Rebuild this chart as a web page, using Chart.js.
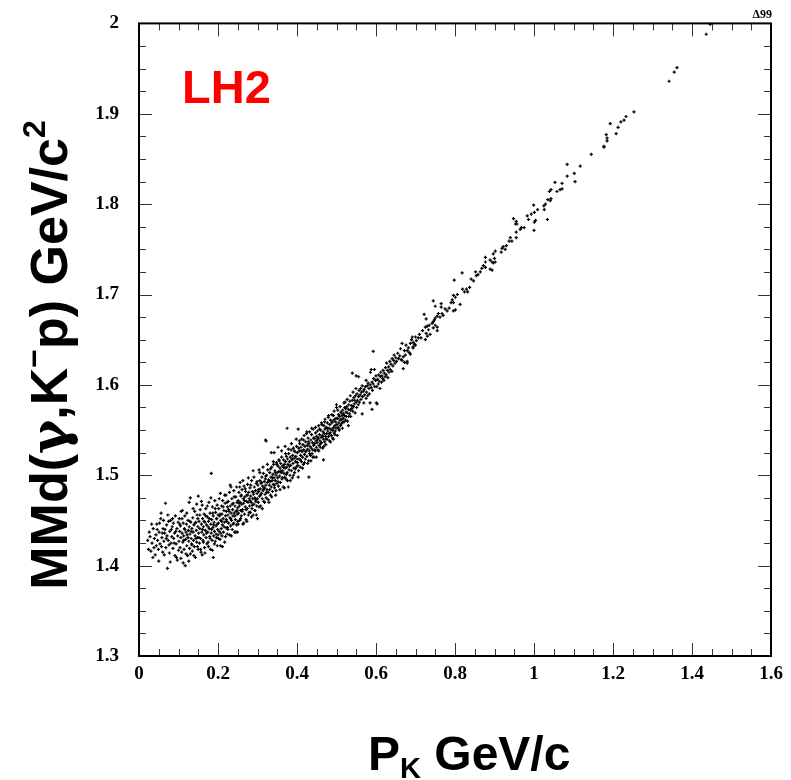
<!DOCTYPE html>
<html>
<head>
<meta charset="utf-8">
<script src="https://cdn.jsdelivr.net/npm/chart.js@4.4.1/dist/chart.umd.min.js"></script>
<style>
  html, body { margin: 0; padding: 0; background: #fff; }
  canvas { display: block; }
</style>
</head>
<body>
<canvas id="c" width="791" height="780"></canvas>
<script>
// Axis tick values (labelled ticks)
const pTicks = [0, 0.2, 0.4, 0.6, 0.8, 1.0, 1.2, 1.4, 1.6];
const mmTicks = [1.3, 1.4, 1.5, 1.6, 1.7, 1.8, 1.9, 2.0];

// Events: [kaon momentum P_K (GeV/c), missing mass MMd(gamma,K-p) (GeV/c^2)]
const band000_010 = [
  [0.022,1.428],[0.024,1.418],[0.028,1.432],[0.030,1.416],[0.033,1.425],[0.036,1.441],[0.038,1.420],[0.041,1.412],
  [0.043,1.434],[0.045,1.446],[0.047,1.428],[0.049,1.418],[0.051,1.437],[0.053,1.424],[0.055,1.452],[0.056,1.458],
  [0.058,1.431],[0.060,1.415],[0.061,1.441],[0.063,1.427],[0.065,1.436],[0.067,1.469],[0.068,1.420],[0.070,1.445],
  [0.071,1.433],[0.072,1.397],[0.074,1.428],[0.075,1.449],[0.077,1.414],[0.078,1.438],[0.080,1.450],[0.081,1.425],
  [0.083,1.432],[0.084,1.443],[0.086,1.419],[0.087,1.447],[0.088,1.430],[0.090,1.436],[0.091,1.411],[0.092,1.455],
  [0.094,1.424],[0.095,1.409],[0.096,1.441],[0.097,1.406],[0.098,1.433],[0.099,1.448]
];
const band010_020 = [
  [0.101,1.427],[0.102,1.452],[0.103,1.438],[0.104,1.420],[0.105,1.444],[0.106,1.431],[0.107,1.460],[0.108,1.415],
  [0.109,1.436],[0.110,1.461],[0.111,1.426],[0.112,1.403],[0.112,1.447],[0.113,1.433],[0.114,1.418],[0.115,1.441],
  [0.116,1.455],[0.117,1.400],[0.118,1.429],[0.119,1.437],[0.120,1.446],[0.121,1.422],[0.122,1.434],[0.123,1.411],
  [0.124,1.450],[0.125,1.439],[0.126,1.427],[0.127,1.470],[0.127,1.443],[0.128,1.419],[0.129,1.435],[0.130,1.475],
  [0.130,1.413],[0.131,1.448],[0.132,1.430],[0.133,1.424],[0.134,1.441],[0.135,1.416],[0.136,1.453],[0.137,1.437],
  [0.138,1.428],[0.139,1.445],[0.140,1.421],[0.141,1.460],[0.142,1.433],[0.143,1.409],[0.144,1.448],[0.145,1.439],
  [0.146,1.426],[0.147,1.456],[0.148,1.431],[0.149,1.443],[0.150,1.477],[0.150,1.418],
  [0.151,1.436],[0.152,1.449],[0.153,1.425],[0.154,1.441],[0.155,1.462],[0.156,1.430],[0.157,1.415],[0.158,1.446],
  [0.159,1.437],[0.160,1.467],[0.160,1.412],[0.161,1.452],[0.162,1.428],[0.163,1.443],[0.164,1.434],[0.165,1.457],
  [0.166,1.420],[0.167,1.448],[0.168,1.439],[0.169,1.463],[0.170,1.431],[0.171,1.445],[0.172,1.424],[0.173,1.454],
  [0.174,1.437],[0.175,1.426],[0.176,1.449],[0.177,1.470],[0.178,1.441],[0.179,1.432],[0.180,1.458],[0.181,1.418],
  [0.182,1.446],[0.183,1.502],[0.183,1.436],[0.184,1.451],[0.185,1.428],[0.186,1.465],[0.187,1.442],[0.188,1.409],
  [0.188,1.455],[0.189,1.433],[0.190,1.448],[0.191,1.438],[0.192,1.472],[0.193,1.427],[0.194,1.459],[0.195,1.444],
  [0.196,1.431],[0.197,1.452],[0.198,1.422],[0.198,1.467],[0.199,1.440],[0.200,1.456],[0.200,1.434]
];
const band020_030 = [
  [0.201,1.447],[0.202,1.463],[0.203,1.438],[0.204,1.455],[0.205,1.429],[0.206,1.422],[0.206,1.480],[0.207,1.450],
  [0.208,1.441],[0.209,1.466],[0.210,1.457],[0.210,1.433],[0.211,1.445],[0.212,1.472],[0.213,1.452],[0.214,1.437],
  [0.215,1.461],[0.216,1.448],[0.217,1.426],[0.218,1.469],[0.219,1.455],[0.220,1.442],[0.220,1.478],[0.221,1.460],
  [0.222,1.449],[0.223,1.435],[0.224,1.442],[0.224,1.465],[0.225,1.456],[0.226,1.471],[0.227,1.447],[0.228,1.460],
  [0.229,1.434],[0.230,1.453],[0.231,1.489],[0.231,1.466],[0.232,1.444],[0.233,1.458],[0.233,1.487],[0.234,1.450],
  [0.235,1.474],[0.236,1.440],[0.237,1.462],[0.238,1.455],[0.239,1.469],[0.240,1.447],[0.240,1.483],[0.241,1.458],
  [0.242,1.437],[0.243,1.466],[0.244,1.451],[0.245,1.476],[0.246,1.460],[0.247,1.445],[0.248,1.470],[0.249,1.437],
  [0.249,1.457],[0.250,1.464],[0.250,1.449],
  [0.251,1.472],[0.252,1.458],[0.253,1.481],[0.254,1.466],[0.255,1.450],[0.256,1.492],[0.256,1.470],[0.257,1.461],
  [0.258,1.477],[0.259,1.455],[0.260,1.468],[0.261,1.484],[0.262,1.462],[0.263,1.446],[0.264,1.474],[0.265,1.469],
  [0.266,1.488],[0.267,1.457],[0.268,1.476],[0.269,1.465],[0.270,1.482],[0.271,1.451],[0.272,1.471],[0.273,1.478],
  [0.274,1.463],[0.275,1.490],[0.276,1.470],[0.277,1.456],[0.278,1.481],[0.279,1.474],[0.280,1.466],[0.281,1.486],
  [0.282,1.459],[0.283,1.477],[0.284,1.470],[0.285,1.494],[0.286,1.463],[0.287,1.482],[0.288,1.474],[0.289,1.505],
  [0.289,1.456],[0.290,1.479],[0.291,1.468],[0.292,1.487],[0.293,1.475],[0.294,1.461],[0.295,1.483],[0.296,1.471],
  [0.297,1.491],[0.298,1.466],[0.299,1.480],[0.300,1.474],[0.300,1.452]
];
const band030_040 = [
  [0.301,1.489],[0.302,1.470],[0.303,1.482],[0.304,1.506],[0.305,1.477],[0.306,1.494],[0.307,1.485],[0.308,1.466],
  [0.309,1.491],[0.310,1.480],[0.311,1.498],[0.312,1.474],[0.313,1.488],[0.314,1.483],[0.315,1.502],[0.316,1.471],
  [0.317,1.493],[0.318,1.486],[0.319,1.479],[0.320,1.539],[0.320,1.496],[0.321,1.489],[0.322,1.538],[0.322,1.475],
  [0.323,1.500],[0.324,1.484],[0.325,1.492],[0.326,1.506],[0.327,1.481],[0.328,1.495],[0.329,1.470],[0.330,1.489],
  [0.331,1.503],[0.332,1.493],[0.333,1.478],[0.334,1.498],[0.335,1.525],[0.335,1.487],[0.336,1.509],[0.337,1.494],
  [0.338,1.482],[0.339,1.501],[0.340,1.490],[0.341,1.512],[0.342,1.525],[0.342,1.497],[0.343,1.486],[0.344,1.505],
  [0.345,1.494],[0.346,1.478],[0.347,1.500],[0.348,1.514],[0.349,1.491],[0.350,1.503],
  [0.351,1.497],[0.352,1.531],[0.352,1.510],[0.353,1.488],[0.354,1.504],[0.355,1.516],[0.356,1.499],[0.357,1.508],
  [0.358,1.492],[0.359,1.513],[0.360,1.503],[0.361,1.520],[0.362,1.496],[0.363,1.510],[0.364,1.505],[0.365,1.487],
  [0.366,1.517],[0.367,1.502],[0.368,1.512],[0.369,1.498],[0.370,1.532],[0.370,1.508],[0.371,1.515],[0.372,1.496],
  [0.373,1.521],[0.374,1.509],[0.375,1.552],[0.375,1.503],[0.376,1.518],[0.377,1.512],[0.378,1.487],[0.379,1.524],
  [0.380,1.506],[0.381,1.515],[0.382,1.500],[0.383,1.520],[0.384,1.511],[0.385,1.528],[0.386,1.505],[0.387,1.517],
  [0.388,1.497],[0.389,1.522],[0.390,1.513],[0.391,1.530],[0.392,1.508],[0.393,1.519],[0.394,1.503],[0.395,1.526],
  [0.396,1.515],[0.397,1.521],[0.398,1.509],[0.399,1.532],[0.400,1.518]
];
const band040_050 = [
  [0.401,1.525],[0.402,1.511],[0.403,1.551],[0.403,1.498],[0.404,1.530],[0.405,1.518],[0.406,1.527],[0.407,1.535],
  [0.408,1.509],[0.409,1.522],[0.410,1.531],[0.411,1.515],[0.412,1.540],[0.413,1.526],[0.414,1.520],[0.415,1.534],
  [0.416,1.512],[0.417,1.528],[0.418,1.544],[0.419,1.523],[0.420,1.532],[0.421,1.518],[0.422,1.537],[0.423,1.527],
  [0.424,1.546],[0.425,1.521],[0.426,1.533],[0.427,1.529],[0.428,1.541],[0.429,1.516],[0.430,1.498],[0.430,1.535],
  [0.431,1.527],[0.432,1.548],[0.433,1.532],[0.434,1.522],[0.435,1.539],[0.436,1.530],[0.437,1.545],[0.438,1.524],
  [0.439,1.536],[0.440,1.528],[0.441,1.551],[0.442,1.533],[0.443,1.520],[0.444,1.541],[0.445,1.535],[0.446,1.527],
  [0.447,1.547],[0.448,1.538],[0.449,1.531],[0.450,1.543],
  [0.451,1.536],[0.452,1.549],[0.453,1.528],[0.454,1.541],[0.455,1.555],[0.456,1.533],[0.457,1.545],[0.458,1.538],
  [0.459,1.531],[0.460,1.550],[0.461,1.542],[0.462,1.536],[0.463,1.556],[0.464,1.544],[0.465,1.530],[0.466,1.548],
  [0.467,1.517],[0.467,1.540],[0.468,1.555],[0.469,1.546],[0.470,1.559],[0.470,1.537],[0.471,1.551],[0.472,1.543],
  [0.473,1.534],[0.474,1.553],[0.475,1.546],[0.476,1.540],[0.477,1.558],[0.478,1.549],[0.479,1.564],[0.480,1.543],
  [0.481,1.552],[0.482,1.538],[0.483,1.556],[0.484,1.547],[0.485,1.561],[0.486,1.551],[0.487,1.544],[0.488,1.558],
  [0.489,1.550],[0.490,1.541],[0.491,1.560],[0.492,1.566],[0.492,1.540],[0.493,1.553],[0.494,1.547],[0.495,1.562],
  [0.496,1.555],[0.497,1.549],[0.498,1.559],[0.499,1.552],[0.500,1.578]
];
const band050_065 = [
  [0.500,1.575],[0.501,1.556],[0.502,1.544],[0.503,1.563],[0.504,1.553],[0.505,1.567],[0.506,1.558],[0.507,1.550],
  [0.508,1.565],[0.509,1.561],[0.510,1.555],[0.511,1.570],[0.512,1.562],[0.513,1.557],[0.514,1.566],[0.515,1.552],
  [0.516,1.572],[0.517,1.563],[0.518,1.568],[0.519,1.559],[0.520,1.566],[0.521,1.575],[0.522,1.581],[0.523,1.561],
  [0.524,1.570],[0.525,1.565],[0.526,1.576],[0.527,1.569],[0.528,1.560],[0.530,1.555],[0.530,1.573],[0.531,1.578],
  [0.533,1.568],[0.534,1.582],[0.535,1.572],[0.536,1.565],[0.538,1.577],[0.540,1.613],[0.540,1.583],[0.541,1.571],
  [0.543,1.576],[0.544,1.586],[0.545,1.579],[0.547,1.569],[0.548,1.588],[0.550,1.610],[0.550,1.581],
  [0.551,1.575],[0.552,1.590],[0.553,1.583],[0.555,1.578],[0.556,1.609],[0.556,1.587],[0.557,1.594],[0.558,1.581],
  [0.560,1.589],[0.561,1.596],[0.562,1.584],[0.563,1.592],[0.565,1.599],[0.565,1.568],[0.566,1.587],[0.568,1.593],
  [0.569,1.580],[0.570,1.595],[0.571,1.589],[0.573,1.598],[0.575,1.605],[0.575,1.585],[0.576,1.592],[0.578,1.599],
  [0.579,1.588],[0.580,1.602],[0.582,1.596],[0.583,1.590],[0.585,1.580],[0.585,1.600],[0.586,1.614],[0.588,1.617],
  [0.588,1.597],[0.590,1.573],[0.590,1.603],[0.591,1.594],[0.593,1.637],[0.593,1.601],[0.594,1.607],[0.596,1.617],
  [0.597,1.598],[0.599,1.605],[0.600,1.610],
  [0.601,1.580],[0.602,1.598],[0.603,1.579],[0.604,1.606],[0.606,1.601],[0.607,1.611],[0.608,1.604],[0.610,1.596],
  [0.611,1.609],[0.612,1.614],[0.614,1.603],[0.615,1.610],[0.617,1.607],[0.618,1.616],[0.620,1.605],[0.621,1.613],
  [0.623,1.609],[0.624,1.619],[0.626,1.611],[0.627,1.624],[0.629,1.616],[0.630,1.608],[0.632,1.620],[0.633,1.614],
  [0.635,1.626],[0.636,1.617],[0.638,1.623],[0.640,1.615],[0.641,1.629],[0.643,1.621],[0.645,1.627],[0.646,1.633],
  [0.648,1.624],[0.650,1.630]
];
const band065_087 = [
  [0.652,1.626],[0.655,1.635],[0.657,1.629],[0.660,1.632],[0.662,1.640],[0.664,1.628],[0.666,1.646],[0.666,1.627],
  [0.669,1.631],[0.669,1.618],[0.672,1.638],[0.672,1.625],[0.674,1.633],[0.676,1.644],[0.679,1.638],[0.679,1.626],
  [0.679,1.624],[0.682,1.641],[0.684,1.636],[0.687,1.646],[0.687,1.634],[0.690,1.650],[0.692,1.653],[0.694,1.647],
  [0.694,1.642],[0.694,1.641],[0.697,1.645],[0.700,1.653],[0.700,1.644],
  [0.702,1.649],[0.707,1.652],[0.710,1.656],[0.714,1.652],[0.718,1.660],[0.722,1.678],[0.725,1.664],[0.725,1.650],
  [0.727,1.673],[0.727,1.657],[0.730,1.665],[0.730,1.654],[0.733,1.661],[0.735,1.666],[0.737,1.656],[0.742,1.668],
  [0.745,1.670],[0.745,1.663],[0.745,1.693],[0.748,1.672],[0.750,1.666],[0.750,1.674],[0.750,1.687],[0.755,1.664],
  [0.755,1.660],[0.755,1.676],[0.758,1.679],[0.762,1.675],[0.765,1.690],[0.765,1.686],[0.767,1.679],[0.770,1.677],
  [0.775,1.684],[0.780,1.682],[0.785,1.685],[0.790,1.691],[0.793,1.694],[0.796,1.699],[0.796,1.691],[0.796,1.682],
  [0.798,1.716],
  [0.801,1.697],[0.801,1.683],[0.806,1.700],[0.813,1.689],[0.818,1.724],[0.819,1.706],[0.824,1.703],[0.829,1.706],
  [0.832,1.703],[0.837,1.708],[0.841,1.717],[0.847,1.715],[0.852,1.725],[0.854,1.721],[0.858,1.722],[0.864,1.725],
  [0.868,1.729]
];
const bandAbove087 = [
  [0.872,1.732],[0.877,1.741],[0.877,1.736],[0.877,1.730],[0.889,1.738],[0.889,1.728],[0.894,1.736],[0.894,1.727],
  [0.897,1.745],[0.897,1.735],[0.900,1.740],[0.902,1.748],[0.902,1.736],[0.917,1.747],[0.919,1.751],[0.922,1.753],
  [0.927,1.750],[0.930,1.754],[0.937,1.759],[0.940,1.763],[0.944,1.759],[0.948,1.784],[0.953,1.778],[0.955,1.781],
  [0.955,1.769],[0.955,1.763],[0.957,1.778],[0.965,1.772],[0.968,1.774],[0.975,1.774],[0.983,1.787],[0.986,1.783],
  [0.993,1.789],[0.999,1.799],[1.000,1.771],
  [1.001,1.791],[1.001,1.780],[1.004,1.782],[1.009,1.794],[1.025,1.798],[1.026,1.794],[1.029,1.800],[1.034,1.783],
  [1.035,1.805],[1.039,1.814],[1.041,1.804],[1.043,1.816],[1.043,1.806],[1.053,1.824],[1.058,1.814],[1.066,1.816],
  [1.071,1.823],[1.071,1.817],[1.084,1.844],[1.084,1.831],[1.102,1.834],[1.104,1.825],[1.117,1.842],[1.145,1.855],
  [1.177,1.864],[1.177,1.863],[1.183,1.877],[1.185,1.873],[1.185,1.870],[1.193,1.889],[1.208,1.878],[1.213,1.885],
  [1.220,1.891],[1.228,1.893],[1.233,1.897],[1.253,1.902],[1.342,1.936],[1.355,1.946],[1.362,1.951],[1.436,1.988],
  [1.446,1.999]
];
// Additional low-momentum events filling out the width of the band
const spreadLow = [
  [0.026,1.437],[0.032,1.446],[0.035,1.409],[0.039,1.430],[0.044,1.422],[0.046,1.440],[0.050,1.405],[0.052,1.447],
  [0.057,1.421],[0.059,1.436],[0.062,1.450],[0.064,1.412],[0.066,1.440],[0.069,1.430],[0.073,1.456],[0.076,1.423],
  [0.079,1.404],[0.082,1.440],[0.085,1.452],[0.089,1.425],[0.093,1.438],[0.100,1.417],[0.103,1.446],[0.106,1.408],
  [0.109,1.452],[0.113,1.428],[0.116,1.440],[0.119,1.413],[0.121,1.458],[0.124,1.431],[0.126,1.405],[0.129,1.449],
  [0.132,1.438],[0.134,1.423],[0.137,1.463],[0.139,1.411],[0.142,1.447],[0.144,1.430],[0.146,1.468],[0.148,1.421],
  [0.149,1.452],
  [0.152,1.431],[0.154,1.456],[0.156,1.418],[0.158,1.471],[0.161,1.440],[0.163,1.426],[0.165,1.449],[0.167,1.414],
  [0.169,1.455],[0.171,1.436],[0.173,1.466],[0.175,1.443],[0.176,1.421],[0.178,1.452],[0.180,1.430],[0.182,1.475],
  [0.184,1.440],[0.186,1.417],[0.187,1.458],[0.189,1.445],[0.191,1.424],[0.193,1.463],[0.195,1.435],[0.196,1.452],
  [0.198,1.446],[0.201,1.430],[0.203,1.474],[0.205,1.457],[0.207,1.436],[0.209,1.449],[0.211,1.421],[0.213,1.465],
  [0.215,1.443],[0.217,1.478],[0.219,1.432],[0.221,1.451],[0.223,1.470],[0.225,1.440],[0.227,1.462],[0.229,1.481],
  [0.232,1.452],[0.234,1.433],[0.236,1.468],[0.238,1.446],[0.241,1.476],[0.243,1.455],[0.245,1.437],[0.247,1.487],
  [0.248,1.461]
];
const spreadMid = [
  [0.251,1.446],[0.253,1.469],[0.255,1.487],[0.257,1.452],[0.259,1.478],[0.261,1.460],[0.263,1.494],[0.265,1.447],
  [0.267,1.472],[0.269,1.485],[0.271,1.462],[0.273,1.449],[0.275,1.478],[0.277,1.497],[0.279,1.459],[0.281,1.472],
  [0.283,1.489],[0.285,1.454],[0.287,1.467],[0.289,1.481],[0.291,1.498],[0.293,1.461],[0.295,1.473],[0.297,1.456],
  [0.299,1.493],[0.302,1.484],[0.304,1.465],[0.306,1.503],[0.308,1.478],[0.310,1.492],[0.312,1.463],[0.314,1.509],
  [0.316,1.485],[0.318,1.470],[0.321,1.499],[0.323,1.481],[0.325,1.512],[0.327,1.473],[0.329,1.494],[0.331,1.484],
  [0.333,1.507],[0.336,1.476],[0.338,1.497],[0.340,1.515],[0.343,1.489],[0.345,1.503],[0.347,1.483],[0.349,1.512],
  [0.352,1.493],[0.354,1.517],[0.357,1.484],[0.359,1.505],[0.361,1.527],[0.363,1.497],[0.366,1.509],[0.368,1.486],
  [0.371,1.524],[0.373,1.501],[0.376,1.494],[0.378,1.529],[0.381,1.510],[0.383,1.494],[0.386,1.535],[0.388,1.518],
  [0.391,1.500],[0.393,1.527],[0.396,1.507],[0.398,1.540],[0.401,1.514],[0.404,1.505],[0.406,1.538],[0.409,1.517],
  [0.411,1.527],[0.414,1.508],[0.417,1.539],[0.419,1.514],[0.422,1.526],[0.425,1.548],[0.427,1.513],[0.429,1.537],
  [0.432,1.524],[0.435,1.516],[0.437,1.552],[0.440,1.520],[0.442,1.541],[0.445,1.528],[0.447,1.553],[0.449,1.520],
  [0.452,1.540],[0.455,1.527],[0.457,1.551],[0.460,1.535],[0.462,1.558],[0.465,1.543],[0.468,1.532],[0.471,1.562],
  [0.474,1.540],[0.477,1.552],[0.480,1.566],[0.482,1.546],[0.485,1.537],[0.488,1.567],[0.491,1.550],[0.494,1.571],
  [0.496,1.545],[0.499,1.563],[0.503,1.572],[0.506,1.551],[0.509,1.576],[0.512,1.569],[0.516,1.559],[0.519,1.580],
  [0.523,1.574],[0.527,1.584],[0.531,1.565],[0.535,1.588],[0.539,1.574],[0.542,1.592],[0.546,1.583],[0.549,1.596]
];

const events = [].concat(band000_010, band010_020, band020_030, band030_040,
                         band040_050, band050_065, band065_087, bandAbove087,
                         spreadLow, spreadMid)
                 .map(([p, m]) => ({ x: p, y: m }));

const SANS = '"Liberation Sans", Arial, Helvetica, sans-serif';
const SERIF = '"Liberation Serif", "Times New Roman", Times, serif';

// Draw a run of text pieces (with sub/superscripts) starting at x, baseline y
function fontOf(p) { return `bold ${p.size}px ${p.family || SANS}`; }
function richWidth(ctx, parts) {
  let w = 0;
  for (const p of parts) { ctx.font = fontOf(p); w += ctx.measureText(p.text).width; }
  return w;
}
function drawRich(ctx, parts, x, y) {
  let cx = x;
  for (const p of parts) {
    ctx.font = fontOf(p);
    ctx.fillText(p.text, cx, y + (p.dy || 0));
    cx += ctx.measureText(p.text).width;
  }
}

// Boxed frame with inward-pointing major/minor ticks on all four sides
const frameTicks = {
  id: 'frameTicks',
  afterDatasetsDraw(chart) {
    const { ctx, chartArea: a, scales: { x, y } } = chart;
    ctx.save();
    ctx.strokeStyle = '#333';
    ctx.lineWidth = 1;
    ctx.beginPath();
    const xMin = pTicks[0], xMax = pTicks[pTicks.length - 1];
    const nx = Math.round((xMax - xMin) / 0.05);
    for (let i = 0; i <= nx; i++) {
      const px = Math.round(x.getPixelForValue(xMin + i * 0.05)) + 0.5;
      const len = (i % 4 === 0) ? 13 : 7;
      ctx.moveTo(px, a.bottom); ctx.lineTo(px, a.bottom - len);
      ctx.moveTo(px, a.top); ctx.lineTo(px, a.top + len);
    }
    const yMin = mmTicks[0], yMax = mmTicks[mmTicks.length - 1];
    const ny = Math.round((yMax - yMin) / 0.025);
    for (let i = 0; i <= ny; i++) {
      const py = Math.round(y.getPixelForValue(yMin + i * 0.025)) + 0.5;
      const len = (i % 4 === 0) ? 13 : 7;
      ctx.moveTo(a.left, py); ctx.lineTo(a.left + len, py);
      ctx.moveTo(a.right, py); ctx.lineTo(a.right - len, py);
    }
    ctx.stroke();
    ctx.strokeStyle = '#000';
    ctx.lineWidth = 2;
    ctx.strokeRect(a.left, a.top, a.right - a.left, a.bottom - a.top);
    ctx.restore();
  }
};

// Axis titles, target label and run tag
const annotations = {
  id: 'annotations',
  afterDraw(chart) {
    const { ctx } = chart;
    ctx.save();
    ctx.fillStyle = '#000';
    ctx.textBaseline = 'alphabetic';
    ctx.textAlign = 'left';

    // x-axis title: P_K GeV/c
    drawRich(ctx, [
      { text: 'P', size: 48 },
      { text: 'K', size: 29, dy: 8 },
      { text: ' GeV/c', size: 48 }
    ], 368, 770);

    // y-axis title: MMd(γ,K⁻p) GeV/c²
    const yParts = [
      { text: 'MMd(', size: 52 },
      { text: 'γ', size: 52, family: '"DejaVu Serif", "Liberation Serif", serif' },
      { text: ',K', size: 52 },
      { text: '−', size: 32, dy: -22 },
      { text: 'p) GeV/c', size: 52 },
      { text: '2', size: 32, dy: -22 }
    ];
    const w = richWidth(ctx, yParts);
    ctx.save();
    ctx.translate(67, 355);
    ctx.rotate(-Math.PI / 2);
    drawRich(ctx, yParts, -w / 2, 0);
    ctx.restore();

    // target label
    ctx.fillStyle = '#ff0000';
    ctx.font = `bold 47px ${SANS}`;
    ctx.fillText('LH2', 182, 103);

    // run tag
    ctx.fillStyle = '#000';
    ctx.textAlign = 'right';
    ctx.font = `bold 12px ${SERIF}`;
    ctx.fillText('Δ99', 772, 18);
    ctx.restore();
  }
};

const fmt = v => String(Number(v.toFixed(2)));

new Chart(document.getElementById('c'), {
  type: 'scatter',
  data: {
    datasets: [{
      data: events,
      pointStyle: 'cross',
      pointRadius: 1.6,
      pointBorderWidth: 1.2,
      borderColor: '#000',
      backgroundColor: '#000',
      pointHoverRadius: 1.6
    }]
  },
  options: {
    responsive: false,
    animation: false,
    events: [],
    clip: false,
    layout: { padding: { top: 15, right: 20, left: 0, bottom: 0 } },
    plugins: { legend: { display: false }, tooltip: { enabled: false } },
    scales: {
      x: {
        type: 'linear',
        min: pTicks[0],
        max: pTicks[pTicks.length - 1],
        afterBuildTicks: s => { s.ticks = pTicks.map(v => ({ value: v })); },
        afterFit: s => { s.height = 124; },
        grid: { display: false },
        border: { display: false },
        ticks: {
          autoSkip: false, maxRotation: 0, padding: -1,
          color: '#000',
          font: { family: SERIF, size: 19, weight: 'bold' },
          callback: v => fmt(v)
        }
      },
      y: {
        type: 'linear',
        min: mmTicks[0],
        max: mmTicks[mmTicks.length - 1],
        afterBuildTicks: s => { s.ticks = mmTicks.map(v => ({ value: v })); },
        afterFit: s => { s.width = 139; },
        grid: { display: false },
        border: { display: false },
        ticks: {
          autoSkip: false, padding: 12,
          color: '#000',
          font: { family: SERIF, size: 19, weight: 'bold' },
          callback: v => fmt(v)
        }
      }
    }
  },
  plugins: [frameTicks, annotations]
});
</script>
</body>
</html>
